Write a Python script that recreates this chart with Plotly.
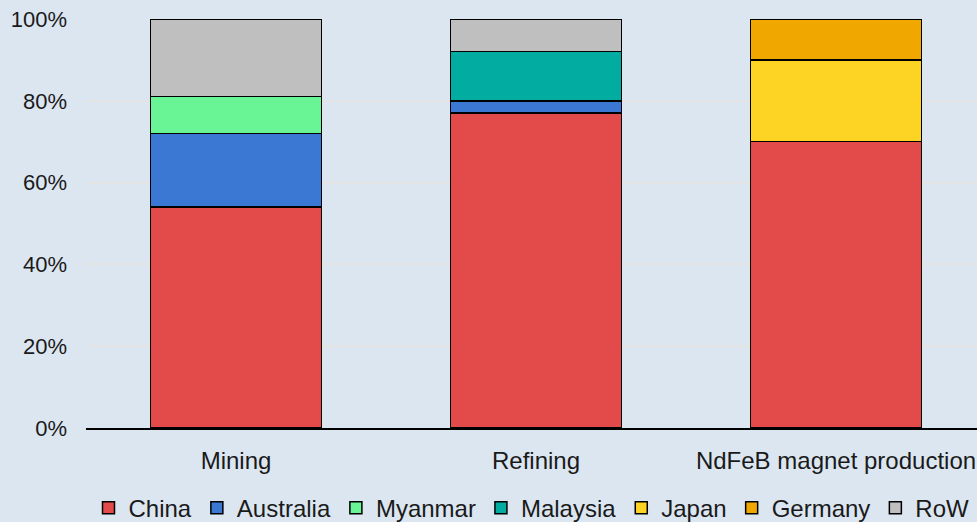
import plotly.graph_objects as go

categories = ["Mining", "Refining", "NdFeB magnet production"]
series_names = ["China", "Australia", "Myanmar", "Malaysia", "Japan", "Germany", "RoW"]
china = [54, 77, 70]
australia = [18, 3, 0]
myanmar = [9, 0, 0]
malaysia = [0, 12, 0]
japan = [0, 0, 20]
germany = [0, 0, 10]
row = [19, 8, 0]
values = [china, australia, myanmar, malaysia, japan, germany, row]
colors = ["#e34a4a", "#3b78d4", "#69f595", "#02aca0", "#fdd324", "#f0a800", "#bfbfbf"]
y_ticks = [0, 20, 40, 60, 80, 100]
y_tick_labels = ["0%", "20%", "40%", "60%", "80%", "100%"]

fig = go.Figure()
for name, vals, col in zip(series_names, values, colors):
    fig.add_trace(go.Bar(
        x=categories, y=vals, name=name, width=0.57,
        marker=dict(color=col, line=dict(color="black", width=1.5)),
    ))

bg = "#dce6f1"
fig.update_layout(
    barmode="stack",
    width=977, height=522,
    margin=dict(l=86, r=0, t=19, b=94, autoexpand=False),
    paper_bgcolor=bg, plot_bgcolor=bg,
    font=dict(family="Liberation Sans, Arial, sans-serif", size=24, color="#1a1a1a"),
    showlegend=True,
    legend=dict(orientation="h", x=0.5, xanchor="center", y=-0.196, yanchor="middle",
                font=dict(size=24), itemwidth=30, traceorder="normal",
                bgcolor="rgba(0,0,0,0)"),
)
fig.update_xaxes(range=[-0.5, 2.47], showline=True, linecolor="black", linewidth=2,
                 ticks="", showgrid=False, ticklabelstandoff=10, automargin=False,
                 tickfont=dict(size=24))
fig.update_yaxes(range=[0, 100], tickmode="array", tickvals=y_ticks, ticktext=y_tick_labels,
                 showgrid=True, gridcolor="#e4e4e4", gridwidth=2, zeroline=False,
                 showline=False, ticklabelstandoff=18, automargin=False,
                 tickfont=dict(size=22))

fig.write_html("out.html", config={"displayModeBar": False})
with open("out.html", "r", encoding="utf-8") as f:
    html = f.read()
html = html.replace("<body>", "<body style=\"margin:0;padding:0;overflow:hidden\">", 1)
html = html.replace("<head>", "<head><style>html,body{margin:0;padding:0;}</style>", 1)
with open("out.html", "w", encoding="utf-8") as f:
    f.write(html)
